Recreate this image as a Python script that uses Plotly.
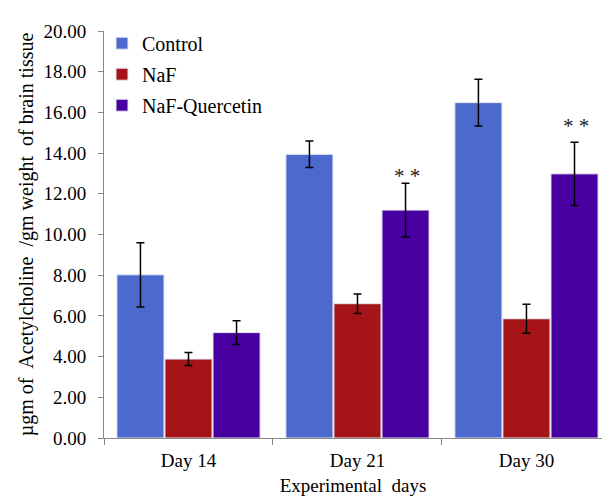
import plotly.graph_objects as go

days = ["Day 14", "Day 21", "Day 30"]
series = ["Control", "NaF", "NaF-Quercetin"]
control = [8.02, 13.94, 16.48]
control_err = [1.58, 0.65, 1.15]
naf = [3.88, 6.60, 5.86]
naf_err = [0.32, 0.48, 0.71]
naf_q = [5.18, 11.20, 12.98]
naf_q_err = [0.58, 1.32, 1.55]
colors = ["#4C6ACD", "#A51417", "#4800A0"]
marks = ["", "* *", "* *"]
mark_lift = [0, 7, 16]

values = [control, naf, naf_q]
errors = [control_err, naf_err, naf_q_err]

font = "'Liberation Serif', 'Times New Roman', serif"

fig = go.Figure()
for i, name in enumerate(series):
    fig.add_trace(go.Bar(
        x=days, y=values[i], name=name, legendgroup=name,
        marker=dict(color=colors[i], line=dict(color="#E6E8F4", width=1)),
        error_y=dict(type="data", array=errors[i], visible=True,
                     color="black", thickness=1.5, width=4),
    ))

# significance asterisks above the NaF-Quercetin error bars
for d, v, e, m, lift in zip(days, naf_q, naf_q_err, marks, mark_lift):
    if m:
        fig.add_annotation(x=d, y=v + e, text=m, showarrow=False,
                           xshift=50, yshift=lift,
                           font=dict(family=font, size=21, color="#222"))

fig.update_layout(
    width=603, height=500,
    margin=dict(l=104, r=1, t=31, b=62),
    paper_bgcolor="white", plot_bgcolor="white",
    barmode="group", bargap=0.147, bargroupgap=0.02,
    font=dict(family=font, size=19, color="black"),
    showlegend=True,
    legend=dict(x=-0.004, y=1.018, xanchor="left", yanchor="top",
                font=dict(family=font, size=20, color="black"),
                traceorder="grouped", tracegroupgap=2,
                itemwidth=30, bgcolor="rgba(0,0,0,0)"),
    xaxis=dict(
        range=[-0.5, 2.447], showline=True, linecolor="#888", linewidth=1,
        ticks="outside", tickson="boundaries", ticklen=6, tickcolor="#888",
        tickfont=dict(family=font, size=19), ticklabelstandoff=5,
        title=dict(text="Experimental  days", font=dict(family=font, size=19), standoff=8),
    ),
    yaxis=dict(
        range=[0, 20], dtick=2, tickformat=".2f", showgrid=False, zeroline=False,
        showline=True, linecolor="#888", linewidth=1,
        ticks="outside", ticklen=5, tickcolor="#888",
        tickfont=dict(family=font, size=19), ticklabelstandoff=8,
        title=dict(text="µgm of  Acetylcholine  /gm weight  of brain tissue",
                   font=dict(family=font, size=20), standoff=4),
    ),
)

fig.write_html("out.html")
